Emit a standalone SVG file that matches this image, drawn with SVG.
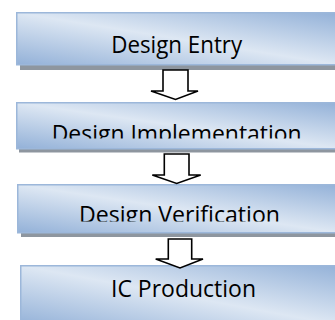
<svg xmlns="http://www.w3.org/2000/svg" width="335" height="320" viewBox="0 0 335 320">
  <defs>
    <linearGradient id="boxFill" x1="0" y1="1" x2="1" y2="0">
      <stop offset="0" stop-color="#93b1d8"/>
      <stop offset="0.5" stop-color="#dde7f3"/>
      <stop offset="1" stop-color="#93b1d8"/>
    </linearGradient>
    <clipPath id="clip2"><rect x="0" y="100" width="335" height="38.5"/></clipPath>
    <clipPath id="clip3"><rect x="0" y="182" width="335" height="39.5"/></clipPath>
  </defs>
  <style>
    .shadow { fill: #8e969f; }
    .box { fill: url(#boxFill); stroke: #9cb7da; stroke-width: 1.5; }
    .label { font-family: "Open Sans", "Liberation Sans", sans-serif; font-size: 23px; fill: #000; text-anchor: middle; }
    .arrow { fill: #fff; stroke: #000; stroke-width: 1.6; stroke-linejoin: miter; }
  </style>

  <g id="design-entry">
    <rect class="shadow" x="20" y="60" width="320" height="10"/>
    <rect class="box" x="16.75" y="12.75" width="322" height="52"/>
    <text class="label" x="176.7" y="53.3" textLength="131" lengthAdjust="spacingAndGlyphs">Design Entry</text>
  </g>

  <g id="design-implementation">
    <rect class="shadow" x="19" y="145" width="320" height="7.5"/>
    <rect class="box" x="16.75" y="102.75" width="322" height="46"/>
    <text class="label" x="176.7" y="142" textLength="250" lengthAdjust="spacingAndGlyphs" clip-path="url(#clip2)">Design Implementation</text>
  </g>

  <g id="design-verification">
    <rect class="shadow" x="21" y="229" width="320" height="8"/>
    <rect class="box" x="17.75" y="184.75" width="322" height="48"/>
    <text class="label" x="179.5" y="222.5" textLength="201" lengthAdjust="spacingAndGlyphs" clip-path="url(#clip3)">Design Verification</text>
  </g>

  <g id="ic-production">
    <rect class="box" x="20.75" y="265.75" width="322" height="60"/>
    <text class="label" x="183.5" y="296.7" textLength="145" lengthAdjust="spacingAndGlyphs">IC Production</text>
  </g>

  <g id="connectors">
    <path class="arrow" d="M163 70 H188 V91 H198 L175.5 99.5 L151 91 H163 Z"/>
    <path class="arrow" d="M164.3 154 H189 V175 H200.7 L176.7 183.5 L152.3 175 H164.3 Z"/>
    <path class="arrow" d="M168.3 239 H191.7 V259 H203 L180 268 L155.7 259 H168.3 Z"/>
  </g>
</svg>
